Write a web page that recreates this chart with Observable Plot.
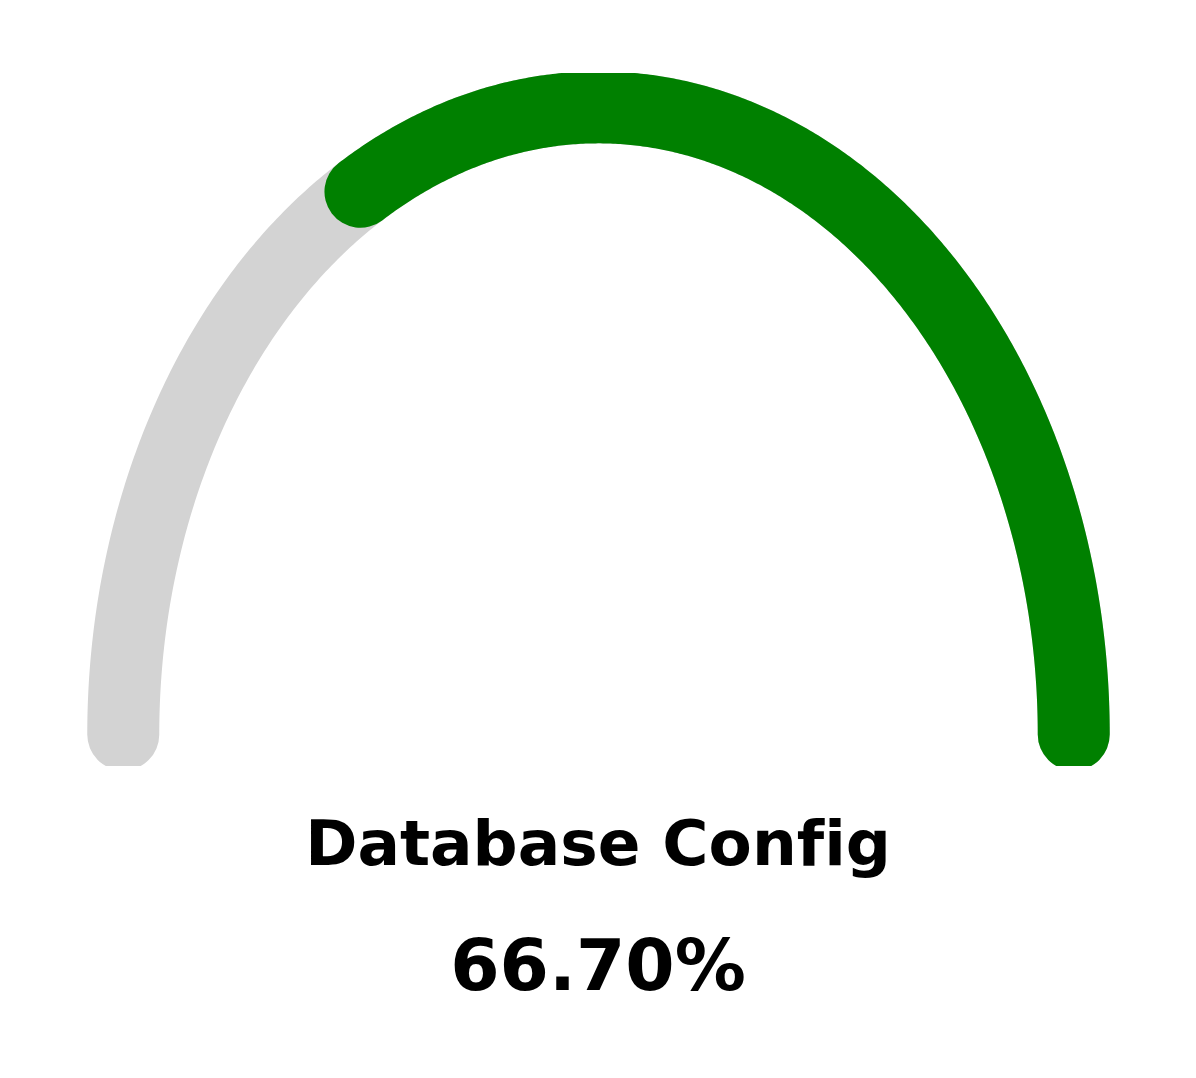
<!DOCTYPE html>
<html>
<head>
<meta charset="utf-8">
<script src="https://cdn.jsdelivr.net/npm/d3@7"></script>
<script src="https://cdn.jsdelivr.net/npm/@observablehq/plot@0.6"></script>
<style>
  html, body { margin: 0; padding: 0; background: #fff; }
  body { width: 1196px; height: 1078px; position: relative; overflow: hidden; font-family: "DejaVu Sans", sans-serif; }
  #chart { position: absolute; left: 0; top: 0; }
  .lbl { position: absolute; left: 0; width: 1196px; text-align: center; font-weight: bold; line-height: 1; color: #000; font-variant-ligatures: none; font-feature-settings: "liga" 0, "clig" 0; }
  #title { font-size: 63px; top: 812px; }
  #value { font-size: 71px; top: 930px; }
</style>
</head>
<body>
<div id="chart"></div>
<div id="title" class="lbl"></div>
<div id="value" class="lbl"></div>
<script>
// Data
const gaugeLabel = ["Database Config"];
const gaugeValue = [66.7];      // percent
const gaugeMax = [100];
const colors = ["lightgray", "green"];

// Arc geometry (unit semicircle), sampled
const N = 360;
function arc(fromFrac, toFrac) {
  return d3.range(N + 1).map(i => {
    const t = fromFrac + (toFrac - fromFrac) * i / N;
    const a = Math.PI * t;
    return {x: Math.cos(a), y: Math.sin(a)};
  });
}
const bg = arc(0, 1);
const fg = arc(0, gaugeValue[0] / gaugeMax[0]);

const chart = Plot.plot({
  width: 1196,
  height: 780,
  marginLeft: 0,
  marginRight: 0,
  marginTop: 73,
  marginBottom: 14,
  x: {domain: [-1.2583, 1.2583], axis: null},
  y: {domain: [-0.051, 1.054], axis: null},
  marks: [
    Plot.line(bg, {x: "x", y: "y", stroke: colors[0], strokeWidth: 72, strokeLinecap: "round", strokeLinejoin: "round", clip: true}),
    Plot.line(fg, {x: "x", y: "y", stroke: colors[1], strokeWidth: 72, strokeLinecap: "round", strokeLinejoin: "round", clip: true})
  ]
});
document.getElementById("chart").appendChild(chart);
document.getElementById("title").textContent = gaugeLabel[0];
document.getElementById("value").textContent = gaugeValue[0].toFixed(2) + "%";
</script>
</body>
</html>
